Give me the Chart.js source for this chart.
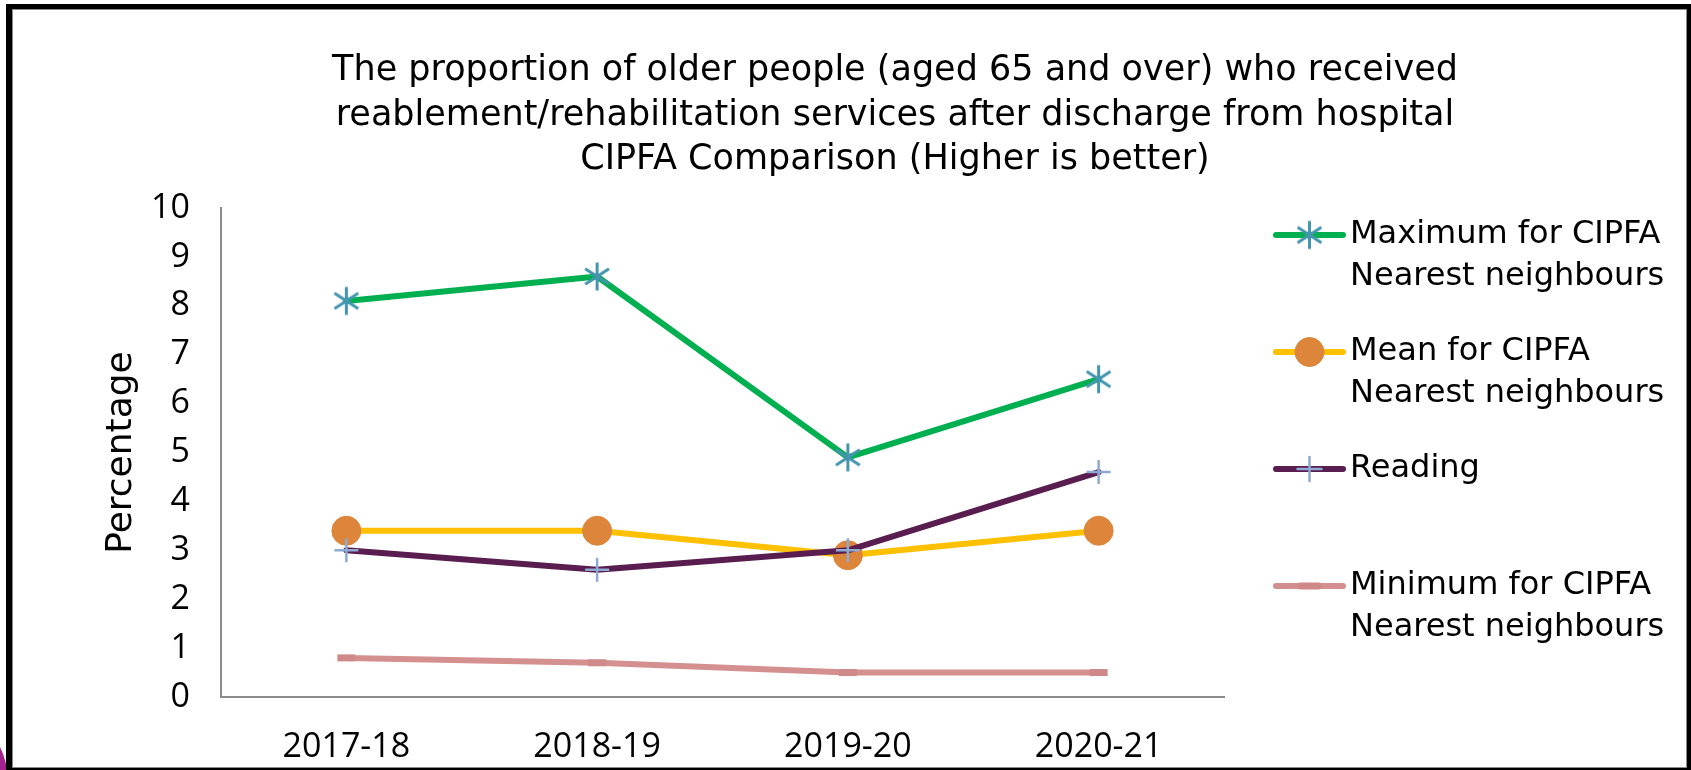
<!DOCTYPE html>
<html>
<head>
<meta charset="utf-8">
<script src="https://cdn.jsdelivr.net/npm/chart.js@4.4.0/dist/chart.umd.min.js"></script>
<style>
  html, body { margin: 0; padding: 0; background: #fff; overflow: hidden; }
  body { width: 1691px; height: 770px; position: relative; }
  #blob { position: absolute; left: -58px; top: 728px; width: 66px; height: 110px; border-radius: 50%; background: #a3208f; }
  #frame { position: absolute; left: 6px; top: 4px; right: 0; bottom: 0; box-sizing: border-box;
           border-style: solid; border-color: #000; border-width: 5px 4px 2px 6px;
           box-shadow: inset 0 0 0 1px #8a8a8a; background: #fff; }
  #chart { position: absolute; left: 100px; top: 0; }
</style>
</head>
<body>
<div id="blob"></div>
<div id="frame"></div>
<canvas id="chart" width="1591" height="770"></canvas>
<script>
const categories = ['2017-18', '2018-19', '2019-20', '2020-21'];
const maxValues = [8.1, 8.6, 4.9, 6.5];
const meanValues = [3.4, 3.4, 2.9, 3.4];
const readingValues = [3.0, 2.6, 3.0, 4.6];
const minValues = [0.8, 0.7, 0.5, 0.5];
const yMin = 0, yMax = 10, yStep = 1;

const titleLines = [
    'The proportion of older people (aged 65 and over) who received',
    'reablement/rehabilitation services after discharge from hospital',
    'CIPFA Comparison (Higher is better)'
];
const legendLabels = [
    ['Maximum for CIPFA', 'Nearest neighbours'],
    ['Mean for CIPFA', 'Nearest neighbours'],
    ['Reading'],
    ['Minimum for CIPFA', 'Nearest neighbours']
];

const TEXT_FONT = '"DejaVu Sans", sans-serif';
const TICK_FONT = '"Open Sans", sans-serif';

// excel style asterisk marker: vertical bar plus an X
function asterisk(size, color) {
    const c = document.createElement('canvas');
    c.width = size; c.height = size;
    const g = c.getContext('2d');
    const m = size / 2, r = size / 2 - 1.5;
    g.strokeStyle = color;
    g.lineWidth = 3;
    g.beginPath();
    g.moveTo(m, m - r); g.lineTo(m, m + r);
    g.moveTo(m - r * 0.85, m - r * 0.55); g.lineTo(m + r * 0.85, m + r * 0.55);
    g.moveTo(m + r * 0.85, m - r * 0.55); g.lineTo(m - r * 0.85, m + r * 0.55);
    g.stroke();
    return c;
}

// title is centred over the whole frame, not the chart area, so draw it here
const frameTitle = {
    id: 'frameTitle',
    afterDraw(chart) {
        const ctx = chart.ctx;
        ctx.save();
        ctx.fillStyle = '#000';
        ctx.font = '35px ' + TEXT_FONT;
        ctx.textAlign = 'center';
        ctx.textBaseline = 'middle';
        titleLines.forEach((line, i) => ctx.fillText(line, 795, 71 + i * 44.5));
        ctx.restore();
    }
};

const sideLegend = {
    id: 'sideLegend',
    afterDraw(chart) {
        const ctx = chart.ctx;
        const x0 = 1176, x1 = 1243, textX = 1250;
        let y = 235;
        chart.data.datasets.forEach((ds, i) => {
            ctx.save();
            ctx.strokeStyle = ds.borderColor;
            ctx.lineWidth = ds.borderWidth;
            ctx.lineCap = 'round';
            ctx.beginPath();
            ctx.moveTo(x0, y);
            ctx.lineTo(x1, y);
            ctx.stroke();
            ctx.fillStyle = ds.pointBackgroundColor;
            ctx.strokeStyle = ds.pointBorderColor;
            ctx.lineWidth = ds.pointBorderWidth;
            Chart.helpers.drawPoint(ctx, {
                pointStyle: ds.pointStyle, radius: ds.pointRadius,
                borderWidth: ds.pointBorderWidth, rotation: 0
            }, (x0 + x1) / 2, y);
            ctx.fillStyle = '#000';
            ctx.font = '32px ' + TEXT_FONT;
            ctx.textBaseline = 'middle';
            legendLabels[i].forEach((line, j) => ctx.fillText(line, textX, y + j * 42));
            ctx.restore();
            y += 117;
        });
    }
};

const ctx = document.getElementById('chart').getContext('2d');
new Chart(ctx, {
    type: 'line',
    data: {
        labels: categories,
        datasets: [
            {
                label: legendLabels[0].join(' '), data: maxValues, order: 1,
                borderColor: '#00b050', borderWidth: 6,
                pointStyle: asterisk(31, '#4496b0'), pointRadius: 14,
                pointBackgroundColor: '#4496b0', pointBorderColor: '#4496b0', pointBorderWidth: 3
            },
            {
                label: legendLabels[1].join(' '), data: meanValues, order: 3,
                borderColor: '#ffc000', borderWidth: 6,
                pointStyle: 'circle', pointRadius: 14.5,
                pointBackgroundColor: '#dc853b', pointBorderColor: '#dc853b', pointBorderWidth: 1
            },
            {
                label: legendLabels[2].join(' '), data: readingValues, order: 2,
                borderColor: '#5a1d50', borderWidth: 6,
                pointStyle: 'cross', pointRadius: 12,
                pointBackgroundColor: '#8eaad2', pointBorderColor: '#8eaad2', pointBorderWidth: 2.5
            },
            {
                label: legendLabels[3].join(' '), data: minValues, order: 4,
                borderColor: '#d4908f', borderWidth: 6,
                pointStyle: 'line', pointRadius: 9,
                pointBackgroundColor: '#cf8988', pointBorderColor: '#cf8988', pointBorderWidth: 7
            }
        ]
    },
    options: {
        responsive: false,
        animation: false,
        events: [],
        elements: { line: { tension: 0, borderJoinStyle: 'round', borderCapStyle: 'round' } },
        layout: { padding: { left: 0, right: 467, top: 208, bottom: 0 } },
        plugins: {
            legend: { display: false },
            tooltip: { enabled: false },
            title: { display: false }
        },
        scales: {
            x: {
                offset: true,
                grid: { display: false, drawTicks: false },
                border: { display: true, color: '#8c8c8c', width: 2 },
                ticks: { color: '#000', padding: 30, font: { family: TICK_FONT, size: 34 } },
                afterFit(scale) { scale.height = 73; }
            },
            y: {
                min: yMin, max: yMax,
                grid: { display: false, drawTicks: false },
                border: { display: true, color: '#8c8c8c', width: 2 },
                ticks: { stepSize: yStep, color: '#000', padding: 31, font: { family: TICK_FONT, size: 34 } },
                title: {
                    display: true, text: 'Percentage', color: '#000', padding: 0,
                    font: { family: TEXT_FONT, size: 36, weight: 'normal' }
                },
                afterFit(scale) { scale.width = 121; }
            }
        }
    },
    plugins: [frameTitle, sideLegend]
});
</script>
</body>
</html>
